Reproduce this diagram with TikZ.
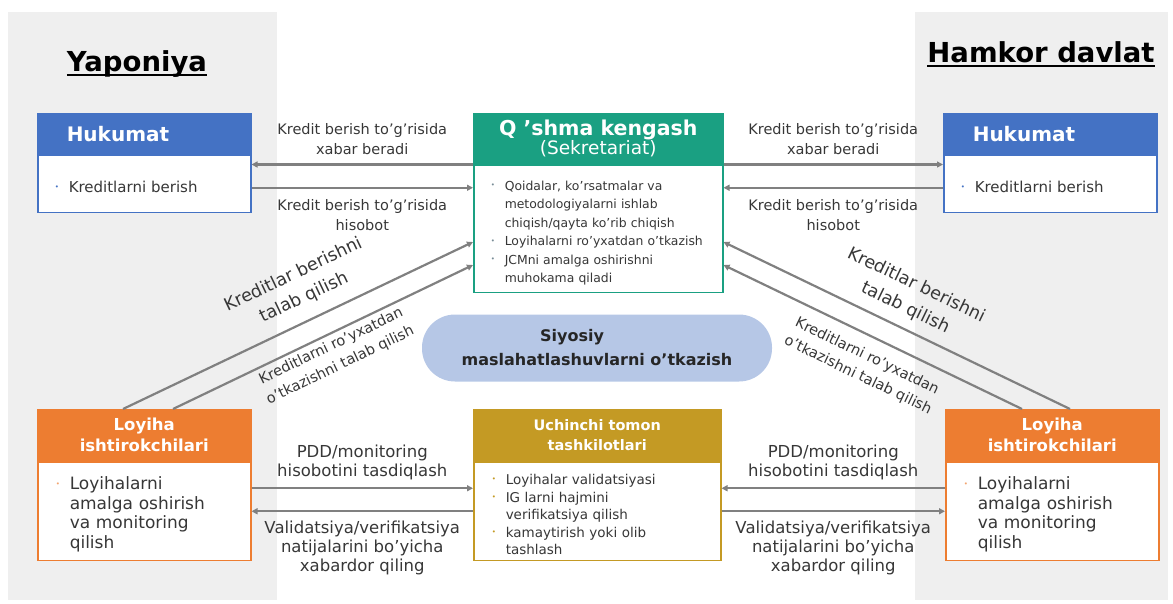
\documentclass[tikz,border=0pt]{standalone}
\usepackage{fontspec}
\setmainfont{DejaVu Sans}
\usetikzlibrary{arrows.meta,positioning}

\definecolor{panelgrey}{RGB}{239,239,239}
\definecolor{hkblue}{RGB}{68,114,196}
\definecolor{jcteal}{RGB}{26,160,130}
\definecolor{tpgold}{RGB}{196,154,36}
\definecolor{pporange}{RGB}{237,125,49}
\definecolor{polblue}{RGB}{182,199,230}
\definecolor{arrgrey}{RGB}{128,128,128}
\definecolor{txtgrey}{RGB}{55,55,55}
\definecolor{dotgrey}{RGB}{120,140,150}

\newcommand{\fsz}[2]{\fontsize{#1}{#2}\selectfont}
\newcommand{\bitem}[2]{\par\hangindent=14pt\hangafter=1\noindent\makebox[14pt][l]{\raisebox{0.22em}{\textcolor{#1}{\fsz{7}{7}\textbullet}}}#2\par}
\newcommand{\undl}[1]{\setbox0\hbox{#1}\rlap{\copy0}\rule[-5pt]{\wd0}{2pt}}

\begin{document}
\begin{tikzpicture}[x=1pt,y=-1pt,
  hdr/.style={draw=#1, fill=#1, line width=1.5pt, text=white, inner ysep=0pt, anchor=north west},
  bdy/.style={draw=#1, fill=white, line width=1.5pt, text=txtgrey, inner ysep=0pt, align=left},
  arr/.style={draw=arrgrey, line width=2.2pt, -{Triangle[length=6pt,width=6pt]}},
  lbl/.style={text=txtgrey, inner sep=0pt, align=center, font=\fsz{14.5}{20}},
  ttl/.style={font=\bfseries\fsz{27.5}{32}, text=black, anchor=base},
  pol/.style={fill=polblue, rounded corners=33pt, minimum width=350pt, minimum height=67pt,
    align=center, font=\bfseries\fsz{16}{24}, text=black!85}]
\useasboundingbox (0,0) rectangle (1173,603);

% country panels
\fill[panelgrey] (8,12) rectangle (277,600);
\fill[panelgrey] (915,12) rectangle (1168,600);
\node[ttl] (jp) at (137,71) {\undl{Yaponiya}};
\node[ttl] (hd) at (1041,62) {\undl{Hamkor davlat}};

% governments
\node[hdr=hkblue, minimum width=213pt, minimum height=40pt, text width=155pt, inner xsep=29pt,
  align=left, font=\bfseries\fsz{20}{24}] (jgh) at (37,113) {Hukumat};
\node[bdy=hkblue, below=0pt of jgh, minimum height=57pt, text width=179pt, inner xsep=17pt,
  font=\fsz{15}{18}] (jgb) {\bitem{hkblue}{Kreditlarni berish}};
\node[hdr=hkblue, minimum width=213pt, minimum height=40pt, text width=155pt, inner xsep=29pt,
  align=left, font=\bfseries\fsz{20}{24}] (pgh) at (943,113) {Hukumat};
\node[bdy=hkblue, below=0pt of pgh, minimum height=57pt, text width=179pt, inner xsep=17pt,
  font=\fsz{15}{18}] (pgb) {\bitem{hkblue}{Kreditlarni berish}};

% joint committee
\node[hdr=jcteal, minimum width=249pt, minimum height=50pt, inner xsep=0pt, align=center,
  font=\bfseries\fsz{20.5}{22}] (jch) at (473,113) {Q 'shma kengash\\[-3pt]{\mdseries\fsz{18.5}{19}(Sekretariat)}};
\node[bdy=jcteal, below=0pt of jch, minimum height=127pt, text width=215pt, inner xsep=17pt,
  font=\fsz{12.4}{18.5}] (jcb) {\bitem{dotgrey}{Qoidalar, ko'rsatmalar va\newline metodologiyalarni ishlab\newline chiqish/qayta ko'rib chiqish}\bitem{dotgrey}{Loyihalarni ro'yxatdan o'tkazish}\bitem{dotgrey}{JCMni amalga oshirishni\newline muhokama qiladi}};

\node[pol] (pol) at (597,348) {Siyosiy\hspace*{50pt}\\maslahatlashuvlarni o'tkazish};

% third parties
\node[hdr=tpgold, minimum width=247pt, minimum height=51pt, inner sep=0pt, align=center,
  font=\bfseries\fsz{14.5}{20}] (tph) at (473,409) {Uchinchi tomon\\tashkilotlari};
\node[bdy=tpgold, below=0pt of tph, minimum height=98pt, text width=211pt, inner xsep=18pt,
  font=\fsz{13.5}{17.5}] (tpb) {\bitem{tpgold}{Loyihalar validatsiyasi}\bitem{tpgold}{IG larni hajmini\newline verifikatsiya qilish}\bitem{tpgold}{kamaytirish yoki olib\newline tashlash}};

% project participants
\node[hdr=pporange, minimum width=213pt, minimum height=51pt, inner sep=0pt, align=center,
  font=\bfseries\fsz{16.5}{21}] (jph) at (37,409) {Loyiha\\ishtirokchilari};
\node[bdy=pporange, below=0pt of jph, minimum height=98pt, text width=177pt, inner xsep=18pt,
  font=\fsz{17}{19.5}] (jpb) {\bitem{pporange!70}{Loyihalarni\newline amalga oshirish\newline va monitoring\newline qilish}};
\node[hdr=pporange, minimum width=213pt, minimum height=51pt, inner sep=0pt, align=center,
  font=\bfseries\fsz{16.5}{21}] (pph) at (945,409) {Loyiha\\ishtirokchilari};
\node[bdy=pporange, below=0pt of pph, minimum height=98pt, text width=177pt, inner xsep=18pt,
  font=\fsz{17}{19.5}] (ppb) {\bitem{pporange!70}{Loyihalarni\newline amalga oshirish\newline va monitoring\newline qilish}};

% government <-> committee
\draw[arr] (jch.south west) -- (jch.south west -| jgb.east)
  node[lbl, midway, above=9pt] {Kredit berish to'g'risida\\xabar beradi};
\draw[arr] ([yshift=-4pt]jgb.east) -- ([yshift=-4pt]jgb.east -| jcb.west)
  node[lbl, midway, below=11pt] {Kredit berish to'g'risida\\hisobot};
\draw[arr] (jch.south east) -- (jch.south east -| pgb.west)
  node[lbl, midway, above=9pt] {Kredit berish to'g'risida\\xabar beradi};
\draw[arr] ([yshift=-4pt]pgb.west) -- ([yshift=-4pt]pgb.west -| jcb.east)
  node[lbl, midway, below=11pt] {Kredit berish to'g'risida\\hisobot};

% participants -> committee
\draw[arr] ([xshift=86pt]jph.north west) -- ([yshift=-129pt]jch.north west)
  node[lbl, sloped, pos=0.545, above=13pt, font=\fsz{17.5}{25}] {Kreditlar berishni\\talab qilish};
\draw[arr] ([xshift=136pt]jph.north west) -- ([yshift=-152pt]jch.north west)
  node[lbl, sloped, pos=0.51, below=4pt, font=\fsz{14.5}{21}] {Kreditlarni ro'yxatdan\\o'tkazishni talab qilish};
\draw[arr] ([xshift=125pt]pph.north west) -- ([yshift=-129pt]jch.north east)
  node[lbl, sloped, pos=0.5, above=10pt, font=\fsz{17.5}{25}] {Kreditlar berishni\\talab qilish};
\draw[arr] ([xshift=77pt]pph.north west) -- ([yshift=-152pt]jch.north east)
  node[lbl, sloped, pos=0.49, below=12pt, font=\fsz{14.5}{21}] {Kreditlarni ro'yxatdan\\o'tkazishni talab qilish};

% participants <-> third parties
\draw[arr] ([yshift=23pt]jpb.east) -- ([yshift=23pt]jpb.east -| tpb.west)
  node[lbl, midway, above=7pt, font=\fsz{16.5}{19}] {PDD/monitoring\\hisobotini tasdiqlash};
\draw[arr] (jpb.east -| tpb.west) -- (jpb.east)
  node[lbl, midway, below=9pt, font=\fsz{16.5}{19}] {Validatsiya/verifikatsiya\\natijalarini bo'yicha\\xabardor qiling};
\draw[arr] ([yshift=23pt]ppb.west) -- ([yshift=23pt]ppb.west -| tpb.east)
  node[lbl, midway, above=7pt, font=\fsz{16.5}{19}] {PDD/monitoring\\hisobotini tasdiqlash};
\draw[arr] (ppb.west -| tpb.east) -- (ppb.west)
  node[lbl, midway, below=9pt, font=\fsz{16.5}{19}] {Validatsiya/verifikatsiya\\natijalarini bo'yicha\\xabardor qiling};
\end{tikzpicture}
\end{document}
